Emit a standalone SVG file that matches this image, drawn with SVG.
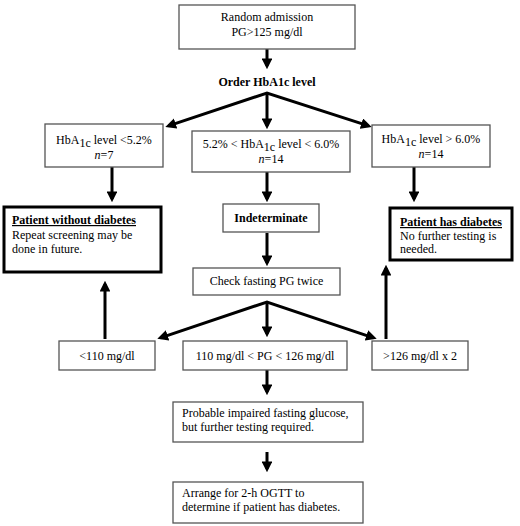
<svg xmlns="http://www.w3.org/2000/svg" width="520" height="526" viewBox="0 0 520 526">
<defs>
<marker id="ah" viewBox="0 0 10 10" refX="7" refY="5" markerWidth="3.6" markerHeight="3.6" orient="auto-start-reverse" markerUnits="strokeWidth">
<path d="M0,0 L10,5 L0,10 z" fill="#000"/>
</marker>
<style>
.box{fill:#fff;stroke:#555;stroke-width:1.3}
.bold-box{fill:#fff;stroke:#000;stroke-width:3}
text{font-family:"Liberation Serif","Times New Roman",serif;font-size:12px;fill:#000}
.c{text-anchor:middle}
.b{font-weight:bold}
.u{text-decoration:underline}
.con{fill:none;stroke:#000;stroke-width:3;marker-end:url(#ah)}
.fan{fill:none;stroke:#000;stroke-width:3;stroke-linejoin:miter;marker-start:url(#ah);marker-end:url(#ah)}
</style>
</defs>
<rect width="520" height="526" fill="#fff"/>
<g id="connectors">
<line class="con" x1="267" y1="49" x2="267" y2="66"/>
<polyline class="fan" points="168.4,125.9 267,93 368.6,125.9"/>
<line class="con" x1="267" y1="93" x2="267" y2="126"/>
<line class="con" x1="112" y1="167" x2="112" y2="199"/>
<line class="con" x1="267" y1="172" x2="267" y2="199"/>
<line class="con" x1="414" y1="167" x2="414" y2="199"/>
<line class="con" x1="267" y1="233" x2="267" y2="263"/>
<polyline class="fan" points="160.4,337.8 267,302 373.6,337.8"/>
<line class="con" x1="267" y1="302" x2="267" y2="334"/>
<line class="con" x1="105" y1="339" x2="105" y2="284"/>
<line class="con" x1="386" y1="339" x2="386" y2="268"/>
<line class="con" x1="267" y1="369" x2="267" y2="392"/>
<line class="con" x1="267" y1="452" x2="267" y2="469"/>
</g>
<g id="random-admission">
<rect class="box" x="179" y="5" width="176" height="44"/>
<text class="c" x="267" y="21">Random admission</text>
<text class="c" x="267" y="36">PG&gt;125 mg/dl</text>
</g>
<g id="order-hba1c">
<text class="c b" x="267" y="86">Order HbA1c level</text>
</g>
<g id="hba1c-low">
<rect class="box" x="45" y="124" width="118" height="43"/>
<text class="c" x="104" y="144">HbA<tspan dy="2.5">1c</tspan><tspan dy="-2.5"> level &lt;5.2%</tspan></text>
<text class="c" x="104" y="159"><tspan font-style="italic">n</tspan>=7</text>
</g>
<g id="hba1c-mid">
<rect class="box" x="192" y="131" width="158" height="41"/>
<text class="c" x="271" y="148">5.2% &lt; HbA<tspan dy="2.5">1c</tspan><tspan dy="-2.5"> level &lt; 6.0%</tspan></text>
<text class="c" x="271" y="163"><tspan font-style="italic">n</tspan>=14</text>
</g>
<g id="hba1c-high">
<rect class="box" x="372" y="125" width="118" height="42"/>
<text class="c" x="431" y="143">HbA<tspan dy="2.5">1c</tspan><tspan dy="-2.5"> level &gt; 6.0%</tspan></text>
<text class="c" x="431" y="158"><tspan font-style="italic">n</tspan>=14</text>
</g>
<g id="patient-without-diabetes">
<rect class="bold-box" x="4" y="207" width="157" height="65"/>
<text class="b u" x="12" y="224">Patient without diabetes</text>
<text x="12" y="239">Repeat screening may be</text>
<text x="12" y="253">done in future.</text>
</g>
<g id="indeterminate">
<rect class="box" x="223" y="204" width="96" height="28"/>
<text class="c b" x="271" y="222">Indeterminate</text>
</g>
<g id="patient-has-diabetes">
<rect class="bold-box" x="390" y="208" width="122" height="52"/>
<text class="b u" x="400" y="226">Patient has diabetes</text>
<text x="400" y="240">No further testing is</text>
<text x="400" y="253">needed.</text>
</g>
<g id="check-fasting">
<rect class="box" x="193" y="268" width="147" height="27"/>
<text class="c" x="266.5" y="285">Check fasting PG twice</text>
</g>
<g id="pg-low">
<rect class="box" x="59" y="341" width="96" height="29"/>
<text class="c" x="107" y="360">&lt;110 mg/dl</text>
</g>
<g id="pg-mid">
<rect class="box" x="183" y="341" width="164" height="29"/>
<text class="c" x="265" y="360">110 mg/dl &lt; PG &lt; 126 mg/dl</text>
</g>
<g id="pg-high">
<rect class="box" x="372" y="341" width="96" height="29"/>
<text class="c" x="420" y="360">&gt;126 mg/dl x 2</text>
</g>
<g id="probable-ifg">
<rect class="box" x="173" y="402" width="190" height="40"/>
<text x="182" y="417">Probable impaired fasting glucose,</text>
<text x="182" y="431">but further testing required.</text>
</g>
<g id="ogtt">
<rect class="box" x="173" y="482" width="190" height="41"/>
<text x="182" y="497">Arrange for 2-h OGTT to</text>
<text x="182" y="511">determine if patient has diabetes.</text>
</g>
</svg>
